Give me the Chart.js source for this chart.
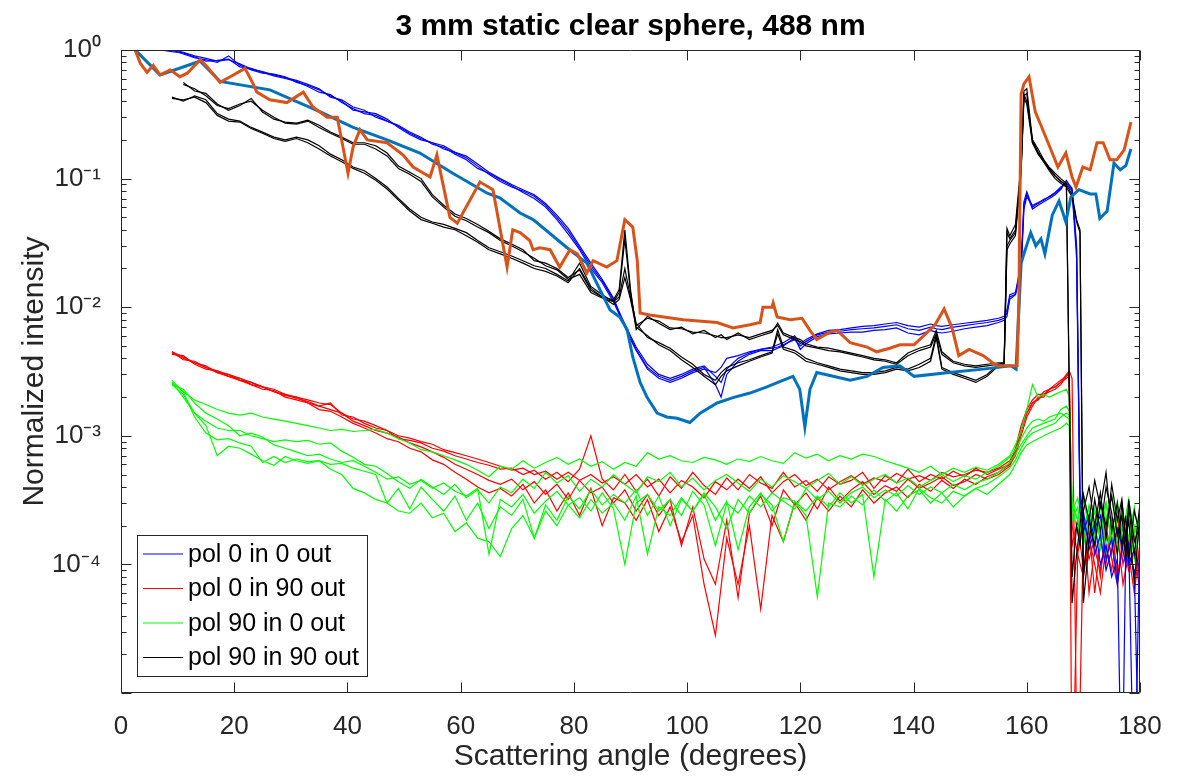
<!DOCTYPE html>
<html>
<head>
<meta charset="utf-8">
<title>3 mm static clear sphere, 488 nm</title>
<script src="https://cdn.jsdelivr.net/npm/chart.js@4.4.1/dist/chart.umd.min.js"></script>
<style>
  html, body { margin: 0; padding: 0; background: #ffffff; }
</style>
</head>
<body>
<canvas id="scatter-chart" width="1184" height="781"></canvas>
<script>
// scattering angles (degrees) shared by the blue and black traces
const anglesA = [3, 5, 7, 9, 11, 13, 15, 17, 19, 21,
  23, 25, 27, 29, 31, 33, 35, 37, 39, 41,
  43, 45, 47, 49, 51, 53, 55, 57, 59, 61,
  63, 65, 67, 69, 71, 73, 75, 77, 79, 81,
  83, 85, 87, 88, 89, 90, 91, 93, 95, 97,
  99, 101, 103, 105, 106, 107, 109, 111, 113, 115,
  116, 117, 119, 120, 121, 123, 125, 127, 129, 131,
  133, 135, 137, 139, 141, 143, 144, 145, 147, 149,
  151, 153, 155, 156, 156.5, 157, 158, 159, 159.5, 160,
  161, 162, 163, 164, 165, 166, 167, 168, 168.8, 169.4,
  170, 171, 172, 173, 174, 175, 176, 176.8, 177.5, 178,
  179, 180];

// scattering angles shared by the red and green traces
const anglesB = [9, 11, 13, 15, 17, 19, 21, 23, 25, 27,
  29, 31, 33, 35, 37, 39, 41, 43, 45, 47,
  49, 51, 53, 55, 57, 59, 61, 63, 65, 67,
  69, 71, 73, 75, 77, 79, 81, 83, 85, 87,
  89, 91, 93, 95, 97, 99, 101, 103, 105, 107,
  109, 111, 113, 115, 117, 119, 121, 123, 125, 127,
  129, 131, 133, 135, 137, 139, 141, 143, 145, 147,
  149, 151, 153, 155, 157, 158, 159, 160, 161, 162,
  163, 164, 165, 166, 167, 167.5, 168, 169, 170, 171,
  172, 173, 174, 175, 176, 177, 178, 179, 180];

// pol 0 in 0 out
const blue1 = [1.15, 1.06, 1.02, 1.0, 0.93, 0.87, 0.84, 0.80, 0.90, 0.76,
  0.70, 0.66, 0.65, 0.62, 0.56, 0.53, 0.49, 0.44, 0.40, 0.34,
  0.33, 0.32, 0.29, 0.25, 0.22, 0.20, 0.19, 0.18, 0.16, 0.145,
  0.125, 0.108, 0.095, 0.086, 0.080, 0.073, 0.062, 0.050, 0.039, 0.029,
  0.021, 0.016, 0.0115, 0.0090, 0.0072, 0.0058, 0.0047, 0.0034, 0.0029, 0.0027,
  0.0029, 0.0032, 0.0034, 0.0025, 0.0020, 0.0030, 0.0038, 0.0043, 0.0046, 0.0046,
  0.0048, 0.0050, 0.0058, 0.0047, 0.0052, 0.0059, 0.0062, 0.0063, 0.0064, 0.0064,
  0.0066, 0.0067, 0.0069, 0.0063, 0.0061, 0.0066, 0.0064, 0.0063, 0.0065, 0.0068,
  0.0070, 0.0072, 0.0076, 0.0079, 0.0085, 0.012, 0.0126, 0.021, 0.063, 0.076,
  0.058, 0.062, 0.066, 0.070, 0.075, 0.082, 0.097, 0.082, 0.028, 3.2e-4,
  2.2e-4, 1.5e-4, 2.1e-4, 1.0e-4, 1.4e-4, 8e-5, 1.1e-4, 1e-6, 1.6e-4, 1.2e-4,
  9e-5, 1e-6];
const blue2 = [1.12, 1.08, 1.0, 0.97, 0.95, 0.88, 0.82, 0.83, 0.85, 0.74,
  0.72, 0.67, 0.63, 0.60, 0.57, 0.52, 0.47, 0.45, 0.39, 0.35,
  0.32, 0.31, 0.28, 0.26, 0.23, 0.21, 0.185, 0.175, 0.155, 0.14,
  0.12, 0.11, 0.098, 0.088, 0.078, 0.070, 0.060, 0.048, 0.037, 0.028,
  0.020, 0.0155, 0.011, 0.0088, 0.0070, 0.0056, 0.0046, 0.0033, 0.0028, 0.0026,
  0.0028, 0.0031, 0.0033, 0.0031, 0.0034, 0.0040, 0.0042, 0.0045, 0.0047, 0.0048,
  0.0049, 0.0051, 0.0056, 0.0050, 0.0054, 0.0061, 0.0064, 0.0065, 0.0067, 0.0068,
  0.0069, 0.0071, 0.0073, 0.0068, 0.0066, 0.0070, 0.0068, 0.0067, 0.0070, 0.0072,
  0.0074, 0.0076, 0.0079, 0.0082, 0.0090, 0.0115, 0.0125, 0.019, 0.058, 0.072,
  0.062, 0.065, 0.068, 0.073, 0.078, 0.086, 0.092, 0.080, 0.024, 2.6e-4,
  1.8e-4, 2.4e-4, 1.2e-4, 1.7e-4, 9e-5, 1.3e-4, 1.9e-4, 1.4e-4, 1.0e-4, 1.5e-4,
  1e-6, 2.0e-4];
const blue3 = [1.18, 1.1, 1.04, 1.01, 0.96, 0.90, 0.86, 0.82, 0.84, 0.78,
  0.71, 0.68, 0.64, 0.61, 0.58, 0.54, 0.50, 0.43, 0.41, 0.36,
  0.34, 0.30, 0.28, 0.255, 0.225, 0.205, 0.19, 0.17, 0.16, 0.15,
  0.13, 0.112, 0.100, 0.090, 0.082, 0.075, 0.064, 0.052, 0.041, 0.030,
  0.022, 0.0165, 0.0118, 0.0092, 0.0074, 0.0060, 0.0049, 0.0036, 0.0030, 0.0028,
  0.0030, 0.0033, 0.0035, 0.0029, 0.0026, 0.0033, 0.0040, 0.0044, 0.0047, 0.0049,
  0.0051, 0.0053, 0.0060, 0.0052, 0.0056, 0.0062, 0.0066, 0.0067, 0.0069, 0.0071,
  0.0072, 0.0074, 0.0076, 0.0072, 0.0070, 0.0074, 0.0072, 0.0071, 0.0073, 0.0075,
  0.0077, 0.0079, 0.0082, 0.0085, 0.0095, 0.0125, 0.013, 0.022, 0.066, 0.079,
  0.060, 0.064, 0.069, 0.072, 0.077, 0.084, 0.095, 0.084, 0.030, 3.6e-4,
  2.6e-4, 1.3e-4, 1.9e-4, 2.4e-4, 1.1e-4, 1.6e-4, 7e-5, 1.3e-4, 1.8e-4, 1.0e-4,
  1.3e-4, 9e-5];

// pol 90 in 90 out
const blackA1 = [null, null, null, 0.43, 0.40, 0.44, 0.41, 0.32, 0.29, 0.28,
  0.25, 0.23, 0.21, 0.20, 0.21, 0.20, 0.18, 0.155, 0.14, 0.123,
  0.115, 0.10, 0.086, 0.070, 0.058, 0.050, 0.046, 0.044, 0.041, 0.038,
  0.033, 0.029, 0.027, 0.025, 0.023, 0.021, 0.020, 0.018, 0.016, 0.022,
  0.0145, 0.0125, 0.011, 0.012, 0.020, 0.012, 0.0075, 0.0058, 0.0053, 0.0048,
  0.0041, 0.0036, 0.0030, 0.0027, 0.0031, 0.0034, 0.0037, 0.0039, 0.0042, 0.0045,
  0.0067, 0.0049, 0.0046, 0.0043, 0.0040, 0.0037, 0.0035, 0.0033, 0.0032, 0.0031,
  0.0031, 0.0032, 0.0034, 0.0033, 0.0036, 0.0040, 0.0061, 0.0034, 0.0031, 0.0029,
  0.0027, 0.0030, 0.0036, 0.0037, 0.030, 0.033, 0.038, 0.12, 0.45, 0.40,
  0.20, 0.17, 0.14, 0.12, 0.105, 0.095, 0.090, 0.075, 0.048, 0.040,
  5e-5, 1.5e-4, 3.2e-4, 1.8e-4, 4.0e-4, 2.5e-4, 1.2e-4, 3.0e-4, 1.6e-4, 2.2e-4,
  7e-5, 2.5e-4];
const blackA2 = [null, null, null, 0.42, 0.41, 0.43, 0.39, 0.31, 0.28, 0.275,
  0.245, 0.225, 0.205, 0.195, 0.205, 0.19, 0.17, 0.15, 0.135, 0.12,
  0.11, 0.097, 0.083, 0.068, 0.056, 0.048, 0.045, 0.042, 0.040, 0.036,
  0.032, 0.028, 0.026, 0.024, 0.022, 0.020, 0.019, 0.0175, 0.0155, 0.020,
  0.014, 0.012, 0.0105, 0.0115, 0.017, 0.0115, 0.0070, 0.0060, 0.0051, 0.0046,
  0.0039, 0.0034, 0.0029, 0.0025, 0.0029, 0.0032, 0.0035, 0.0038, 0.0041, 0.0044,
  0.0062, 0.0047, 0.0044, 0.0041, 0.0038, 0.0036, 0.0034, 0.0032, 0.0031, 0.0030,
  0.0030, 0.0031, 0.0033, 0.0032, 0.0034, 0.0038, 0.0058, 0.0033, 0.0030, 0.0028,
  0.0026, 0.0029, 0.0035, 0.0036, 0.028, 0.031, 0.036, 0.11, 0.42, 0.38,
  0.19, 0.16, 0.135, 0.115, 0.10, 0.092, 0.086, 0.072, 0.046, 0.038,
  8e-5, 2.2e-4, 1.4e-4, 3.0e-4, 2.0e-4, 3.4e-4, 1.7e-4, 2.4e-4, 1.1e-4, 3.2e-4,
  1.5e-4, 2.0e-4];
const blackB1 = [null, null, null, null, 0.56, 0.48, 0.46, 0.38, 0.34, 0.37,
  0.42, 0.33, 0.29, 0.275, 0.27, 0.285, 0.26, 0.23, 0.21, 0.19,
  0.19, 0.18, 0.158, 0.125, 0.112, 0.100, 0.075, 0.062, 0.053, 0.049,
  0.044, 0.039, 0.034, 0.031, 0.028, 0.023, 0.022, 0.020, 0.017, 0.0195,
  0.0135, 0.012, 0.0114, 0.0137, 0.040, 0.0137, 0.0067, 0.0085, 0.0075, 0.0067,
  0.0070, 0.0062, 0.0066, 0.0058, 0.0061, 0.0056, 0.0063, 0.0056, 0.0060, 0.0064,
  0.0075, 0.0063, 0.0058, 0.0056, 0.0052, 0.0049, 0.0048, 0.0046, 0.0044, 0.0042,
  0.0040, 0.0039, 0.0037, 0.0044, 0.0048, 0.0051, 0.0066, 0.0045, 0.0038, 0.0036,
  0.0035, 0.0036, 0.0037, 0.0037, 0.041, 0.036, 0.044, 0.133, 0.48, 0.50,
  0.20, 0.16, 0.14, 0.122, 0.110, 0.100, 0.092, 5e-5, 1.2e-4, 2.0e-4,
  3.5e-4, 2.2e-4, 4.5e-4, 2.8e-4, 5.2e-4, 1.8e-4, 3.0e-4, 1.4e-4, 2.4e-4, 1.1e-4,
  2.6e-4, 1.7e-4];
const blackB2 = [null, null, null, null, 0.54, 0.50, 0.44, 0.37, 0.35, 0.38,
  0.40, 0.34, 0.30, 0.27, 0.265, 0.28, 0.25, 0.225, 0.205, 0.185,
  0.185, 0.17, 0.15, 0.12, 0.108, 0.095, 0.072, 0.060, 0.051, 0.047,
  0.042, 0.038, 0.033, 0.030, 0.027, 0.024, 0.021, 0.0195, 0.0165, 0.018,
  0.013, 0.0118, 0.011, 0.013, 0.034, 0.013, 0.0072, 0.0082, 0.0078, 0.0069,
  0.0068, 0.0064, 0.0063, 0.0060, 0.0058, 0.0058, 0.0061, 0.0058, 0.0062, 0.0066,
  0.0072, 0.0061, 0.0056, 0.0054, 0.0050, 0.0048, 0.0046, 0.0045, 0.0043, 0.0041,
  0.0039, 0.0038, 0.0036, 0.0042, 0.0046, 0.0049, 0.0062, 0.0043, 0.0037, 0.0035,
  0.0034, 0.0035, 0.0036, 0.0036, 0.038, 0.034, 0.040, 0.12, 0.44, 0.46,
  0.19, 0.155, 0.135, 0.118, 0.105, 0.096, 0.088, 8e-5, 2.0e-4, 1.4e-4,
  2.6e-4, 4.0e-4, 2.0e-4, 3.6e-4, 1.6e-4, 4.2e-4, 2.2e-4, 3.2e-4, 1.5e-4, 2.8e-4,
  1.2e-4, 3.0e-4];

// pol 0 in 90 out
const red1 = [4.5e-3, 4.1e-3, 3.7e-3, 3.4e-3, 3.1e-3, 3.0e-3, 2.8e-3, 2.6e-3, 2.4e-3, 2.3e-3,
  2.1e-3, 2.0e-3, 1.9e-3, 1.8e-3, 1.75e-3, 1.5e-3, 1.35e-3, 1.3e-3, 1.2e-3, 1.1e-3,
  1.0e-3, 9.6e-4, 9.0e-4, 8.6e-4, 7.8e-4, 7.4e-4, 7.0e-4, 6.6e-4, 6.2e-4, 5.8e-4,
  5.4e-4, 5.6e-4, 5.0e-4, 5.3e-4, 4.6e-4, 5.2e-4, 4.5e-4, 5.0e-4, 4.3e-4, 4.8e-4,
  4.2e-4, 5.0e-4, 4.0e-4, 4.6e-4, 3.6e-4, 4.5e-4, 4.0e-4, 3.3e-4, 4.4e-4, 3.8e-4,
  4.6e-4, 3.9e-4, 4.8e-4, 3.6e-4, 4.4e-4, 5.0e-4, 4.1e-4, 4.6e-4, 3.8e-4, 4.4e-4,
  4.9e-4, 4.2e-4, 4.7e-4, 4.4e-4, 5.1e-4, 4.6e-4, 4.9e-4, 4.5e-4, 5.2e-4, 4.8e-4,
  5.0e-4, 5.4e-4, 5.2e-4, 5.6e-4, 6.4e-4, 7.6e-4, 1.1e-3, 1.5e-3, 1.8e-3, 1.9e-3,
  2.1e-3, 2.2e-3, 2.3e-3, 2.5e-3, 2.9e-3, 3.1e-3, 1e-6, 1.2e-4, 8e-5, 1.6e-4,
  1.0e-4, 6e-5, 1.4e-4, 9e-5, 1.8e-4, 7e-5, 1.2e-4, 6e-5, 1.5e-4];
const red2 = [4.3e-3, 4.2e-3, 3.6e-3, 3.3e-3, 3.2e-3, 2.9e-3, 2.7e-3, 2.5e-3, 2.4e-3, 2.2e-3,
  2.1e-3, 1.95e-3, 1.85e-3, 1.7e-3, 1.8e-3, 1.45e-3, 1.4e-3, 1.25e-3, 1.15e-3, 1.1e-3,
  9.5e-4, 9.2e-4, 8.8e-4, 8.0e-4, 7.6e-4, 7.0e-4, 6.6e-4, 6.2e-4, 5.9e-4, 5.5e-4,
  5.6e-4, 5.0e-4, 5.4e-4, 4.6e-4, 5.2e-4, 4.4e-4, 5.5e-4, 1.0e-3, 4.6e-4, 3.8e-4,
  5.0e-4, 3.7e-4, 4.6e-4, 3.4e-4, 4.8e-4, 3.9e-4, 5.2e-4, 4.1e-4, 3.5e-4, 4.7e-4,
  3.8e-4, 5.0e-4, 4.3e-4, 3.9e-4, 5.2e-4, 4.0e-4, 4.5e-4, 3.7e-4, 4.8e-4, 4.2e-4,
  4.5e-4, 5.2e-4, 3.9e-4, 4.9e-4, 4.3e-4, 5.5e-4, 4.4e-4, 5.0e-4, 4.6e-4, 5.3e-4,
  4.8e-4, 5.6e-4, 5.0e-4, 5.5e-4, 6.0e-4, 7.0e-4, 1.0e-3, 1.4e-3, 1.7e-3, 2.0e-3,
  2.0e-3, 2.3e-3, 2.4e-3, 2.6e-3, 3.0e-3, 3.2e-3, 2.8e-3, 1e-6, 1.8e-4, 1.1e-4,
  1.6e-4, 8e-5, 2.0e-4, 1.1e-4, 7e-5, 1.5e-4, 9e-5, 1.3e-4, 6e-5];
const red3 = [4.4e-3, 4.0e-3, 3.7e-3, 3.5e-3, 3.1e-3, 2.9e-3, 2.8e-3, 2.5e-3, 2.3e-3, 2.25e-3,
  2.0e-3, 1.9e-3, 1.8e-3, 1.6e-3, 1.55e-3, 1.4e-3, 1.25e-3, 1.15e-3, 1.05e-3, 9.5e-4,
  9.0e-4, 8.0e-4, 7.5e-4, 6.5e-4, 6.0e-4, 5.2e-4, 4.6e-4, 4.0e-4, 3.6e-4, 3.9e-4,
  3.4e-4, 4.2e-4, 3.0e-4, 3.8e-4, 2.6e-4, 3.6e-4, 2.4e-4, 3.9e-4, 2.0e-4, 3.3e-4,
  3.0e-4, 2.2e-4, 3.2e-4, 1.8e-4, 2.8e-4, 1.5e-4, 2.4e-4, 7e-5, 2.8e-5, 1.6e-4,
  7e-5, 2.0e-4, 4.5e-5, 2.4e-4, 1.5e-4, 3.0e-4, 2.2e-4, 3.3e-4, 2.6e-4, 3.4e-4,
  2.8e-4, 3.8e-4, 3.0e-4, 3.6e-4, 4.0e-4, 3.3e-4, 4.2e-4, 3.7e-4, 4.5e-4, 3.9e-4,
  4.6e-4, 4.2e-4, 4.8e-4, 5.2e-4, 6.0e-4, 8.0e-4, 1.2e-3, 1.6e-3, 1.9e-3, 2.1e-3,
  2.1e-3, 2.3e-3, 2.4e-3, 2.6e-3, 2.8e-3, 2.9e-3, 1.4e-4, 2.2e-4, 9e-5, 1.9e-4,
  6e-5, 1.5e-4, 1.0e-4, 2.2e-4, 8e-5, 1.6e-4, 1.1e-4, 1.8e-4, 7e-5];
const red4 = [4.5e-3, 3.9e-3, 3.8e-3, 3.4e-3, 3.2e-3, 3.0e-3, 2.7e-3, 2.6e-3, 2.4e-3, 2.2e-3,
  2.05e-3, 2.0e-3, 1.8e-3, 1.7e-3, 1.6e-3, 1.5e-3, 1.3e-3, 1.2e-3, 1.1e-3, 1.05e-3,
  9.8e-4, 8.8e-4, 8.2e-4, 7.5e-4, 6.8e-4, 6.0e-4, 5.5e-4, 5.0e-4, 4.5e-4, 4.2e-4,
  4.6e-4, 3.8e-4, 4.4e-4, 3.5e-4, 4.2e-4, 3.2e-4, 4.5e-4, 3.6e-4, 4.0e-4, 3.0e-4,
  3.8e-4, 2.6e-4, 3.5e-4, 2.4e-4, 3.2e-4, 1.4e-4, 2.8e-4, 1.1e-4, 7e-5, 2.2e-4,
  5.5e-5, 2.5e-4, 3.4e-4, 2.0e-4, 3.8e-4, 2.9e-4, 3.6e-4, 2.7e-4, 4.0e-4, 3.1e-4,
  3.8e-4, 4.4e-4, 3.5e-4, 4.1e-4, 3.7e-4, 4.6e-4, 3.9e-4, 4.3e-4, 4.8e-4, 4.1e-4,
  4.4e-4, 5.0e-4, 4.6e-4, 5.0e-4, 5.8e-4, 7.4e-4, 1.1e-3, 1.5e-3, 1.8e-3, 1.95e-3,
  2.2e-3, 2.3e-3, 2.5e-3, 2.7e-3, 2.9e-3, 3.0e-3, 2.0e-4, 1.2e-4, 2.4e-4, 6e-5,
  1.3e-4, 9e-5, 1.7e-4, 1.2e-4, 2.5e-4, 1.0e-4, 1.6e-4, 8e-5, 1.3e-4];

// pol 90 in 0 out
const green1 = [2.6e-3, 2.2e-3, 1.9e-3, 1.75e-3, 1.6e-3, 1.5e-3, 1.45e-3, 1.5e-3, 1.4e-3, 1.35e-3,
  1.3e-3, 1.25e-3, 1.2e-3, 1.15e-3, 1.1e-3, 1.12e-3, 1.08e-3, 1.1e-3, 1.12e-3, 1.05e-3,
  9.5e-4, 8.8e-4, 7.8e-4, 7.5e-4, 7.0e-4, 6.5e-4, 6.0e-4, 5.4e-4, 4.8e-4, 5.8e-4,
  5.5e-4, 6.4e-4, 5.6e-4, 6.2e-4, 6.8e-4, 6.0e-4, 6.6e-4, 5.8e-4, 6.3e-4, 5.5e-4,
  6.2e-4, 5.8e-4, 7.4e-4, 6.6e-4, 7.0e-4, 6.4e-4, 6.2e-4, 6.8e-4, 6.5e-4, 6.0e-4,
  6.6e-4, 6.3e-4, 6.9e-4, 6.4e-4, 6.1e-4, 7.4e-4, 6.7e-4, 7.2e-4, 6.4e-4, 7.0e-4,
  6.6e-4, 7.2e-4, 6.9e-4, 6.4e-4, 6.0e-4, 5.6e-4, 5.2e-4, 5.8e-4, 5.0e-4, 5.6e-4,
  5.2e-4, 5.7e-4, 5.4e-4, 6.0e-4, 7.0e-4, 8.5e-4, 1.1e-3, 1.6e-3, 2.5e-3, 2.0e-3,
  2.1e-3, 2.0e-3, 2.1e-3, 2.2e-3, 2.3e-3, 2.0e-3, 3.0e-4, 2.2e-4, 3.5e-4, 1.8e-4,
  2.6e-4, 1.5e-4, 3.0e-4, 2.0e-4, 1.2e-4, 2.4e-4, 1.6e-4, 2.8e-4, 1.4e-4];
const green2 = [2.5e-3, 2.1e-3, 1.5e-3, 1.3e-3, 1.15e-3, 1.1e-3, 1.1e-3, 1.0e-3, 9.5e-4, 9.0e-4,
  9.3e-4, 9.0e-4, 9.2e-4, 8.6e-4, 8.8e-4, 7.6e-4, 6.8e-4, 6.0e-4, 5.8e-4, 5.1e-4,
  4.4e-4, 3.9e-4, 4.6e-4, 4.0e-4, 3.5e-4, 4.2e-4, 3.3e-4, 3.8e-4, 3.0e-4, 4.0e-4,
  3.6e-4, 4.6e-4, 3.9e-4, 5.2e-4, 4.3e-4, 4.9e-4, 3.7e-4, 4.6e-4, 4.0e-4, 5.0e-4,
  4.2e-4, 3.6e-4, 4.8e-4, 4.4e-4, 5.2e-4, 4.0e-4, 4.7e-4, 3.8e-4, 4.5e-4, 5.0e-4,
  4.3e-4, 3.7e-4, 4.6e-4, 4.0e-4, 4.9e-4, 4.4e-4, 3.9e-4, 4.5e-4, 5.1e-4, 4.2e-4,
  4.8e-4, 4.1e-4, 4.6e-4, 5.0e-4, 4.3e-4, 4.7e-4, 4.0e-4, 4.5e-4, 5.0e-4, 4.4e-4,
  4.9e-4, 4.6e-4, 5.2e-4, 5.8e-4, 6.8e-4, 7.8e-4, 9.5e-4, 1.15e-3, 1.3e-3, 1.35e-3,
  1.3e-3, 1.4e-3, 1.45e-3, 1.5e-3, 1.4e-3, 1.35e-3, 2.6e-4, 3.3e-4, 1.9e-4, 2.8e-4,
  1.5e-4, 2.2e-4, 3.0e-4, 1.4e-4, 2.5e-4, 1.8e-4, 3.2e-4, 1.7e-4, 2.4e-4];
const green3 = [2.6e-3, 2.0e-3, 1.5e-3, 1.2e-3, 7.0e-4, 8.3e-4, 8.0e-4, 7.2e-4, 6.4e-4, 5.9e-4,
  6.9e-4, 6.4e-4, 6.1e-4, 6.4e-4, 6.0e-4, 6.1e-4, 5.6e-4, 5.3e-4, 5.0e-4, 3.0e-4,
  3.9e-4, 2.7e-4, 4.0e-4, 3.2e-4, 2.6e-4, 3.4e-4, 2.2e-4, 3.0e-4, 1.9e-4, 2.8e-4,
  2.4e-4, 3.2e-4, 1.6e-4, 2.9e-4, 2.2e-4, 3.4e-4, 2.7e-4, 3.8e-4, 2.9e-4, 3.5e-4,
  3.0e-4, 3.8e-4, 2.4e-4, 3.4e-4, 2.0e-4, 3.2e-4, 2.6e-4, 3.5e-4, 2.2e-4, 3.1e-4,
  1.3e-4, 2.8e-4, 3.6e-4, 2.6e-4, 3.3e-4, 3.1e-4, 2.4e-4, 5.6e-5, 3.0e-4, 2.8e-4,
  3.4e-4, 2.9e-4, 3.8e-4, 3.1e-4, 3.6e-4, 2.7e-4, 3.9e-4, 3.3e-4, 3.0e-4, 3.7e-4,
  3.4e-4, 3.9e-4, 4.2e-4, 4.8e-4, 5.6e-4, 6.5e-4, 8.0e-4, 9.5e-4, 1.05e-3, 1.1e-3,
  1.15e-3, 1.2e-3, 1.25e-3, 1.4e-3, 1.5e-3, 1.45e-3, 3.2e-4, 2.2e-4, 1.6e-4, 2.9e-4,
  1.9e-4, 1.3e-4, 2.4e-4, 1.7e-4, 3.1e-4, 1.5e-4, 2.2e-4, 1.1e-4, 2.0e-4];
const green4 = [2.7e-3, 2.2e-3, 1.4e-3, 1.05e-3, 9.3e-4, 9.5e-4, 8.8e-4, 8.3e-4, 6.2e-4, 6.9e-4,
  6.2e-4, 6.6e-4, 6.3e-4, 6.4e-4, 5.5e-4, 5.0e-4, 3.9e-4, 3.6e-4, 3.2e-4, 3.0e-4,
  2.6e-4, 2.5e-4, 3.0e-4, 2.3e-4, 2.5e-4, 1.8e-4, 2.1e-4, 1.6e-4, 1.5e-4, 1.15e-4,
  1.9e-4, 2.4e-4, 1.6e-4, 2.6e-4, 2.0e-4, 2.9e-4, 2.3e-4, 3.2e-4, 2.5e-4, 3.0e-4,
  2.2e-4, 3.4e-4, 1.2e-4, 2.8e-4, 2.4e-4, 3.3e-4, 2.6e-4, 3.6e-4, 2.8e-4, 1.9e-4,
  3.2e-4, 2.5e-4, 3.5e-4, 2.9e-4, 1.5e-4, 3.1e-4, 2.6e-4, 3.4e-4, 2.8e-4, 3.6e-4,
  3.0e-4, 3.5e-4, 8e-5, 3.2e-4, 2.6e-4, 3.4e-4, 3.8e-4, 3.0e-4, 3.6e-4, 2.8e-4,
  3.4e-4, 3.9e-4, 3.5e-4, 4.2e-4, 5.0e-4, 6.0e-4, 7.4e-4, 8.5e-4, 9.0e-4, 9.5e-4,
  1.0e-3, 1.05e-3, 1.1e-3, 1.15e-3, 1.25e-3, 1.2e-3, 2.2e-4, 2.8e-4, 1.4e-4, 2.4e-4,
  1.7e-4, 2.9e-4, 1.2e-4, 2.1e-4, 1.5e-4, 2.6e-4, 1.1e-4, 1.9e-4, 2.3e-4];
const green5 = [2.5e-3, 2.3e-3, 1.8e-3, 1.5e-3, 1.35e-3, 1.2e-3, 1.0e-3, 1.05e-3, 9.8e-4, 8.5e-4,
  8.0e-4, 7.5e-4, 7.0e-4, 7.2e-4, 6.6e-4, 6.2e-4, 6.4e-4, 5.8e-4, 5.2e-4, 4.6e-4,
  4.8e-4, 4.2e-4, 4.5e-4, 3.9e-4, 4.3e-4, 3.7e-4, 3.4e-4, 3.9e-4, 1.2e-4, 3.2e-4,
  2.8e-4, 3.5e-4, 2.5e-4, 3.1e-4, 3.7e-4, 2.9e-4, 3.3e-4, 2.6e-4, 3.6e-4, 2.7e-4,
  1.0e-4, 3.0e-4, 3.5e-4, 2.6e-4, 3.2e-4, 2.4e-4, 3.7e-4, 2.9e-4, 1.4e-4, 3.0e-4,
  2.5e-4, 3.4e-4, 2.8e-4, 3.6e-4, 3.1e-4, 2.7e-4, 3.9e-4, 3.2e-4, 3.7e-4, 3.0e-4,
  3.6e-4, 4.0e-4, 3.3e-4, 3.8e-4, 3.4e-4, 4.1e-4, 3.5e-4, 4.0e-4, 3.6e-4, 4.2e-4,
  3.8e-4, 4.3e-4, 4.6e-4, 5.2e-4, 6.2e-4, 7.2e-4, 8.6e-4, 1.0e-3, 1.15e-3, 1.2e-3,
  1.25e-3, 1.3e-3, 1.35e-3, 1.6e-3, 1.7e-3, 1.55e-3, 2.8e-4, 1.8e-4, 3.2e-4, 2.0e-4,
  2.7e-4, 1.6e-4, 2.2e-4, 3.4e-4, 1.9e-4, 1.3e-4, 2.7e-4, 2.0e-4, 1.5e-4];

// thick orange trace
const orangeAngles = [2.5, 3.4, 4.6, 5.7, 6.9, 8.7, 10.4, 11.7, 14.0, 15.2,
  17.5, 19.3, 21.9, 23.3, 24.0, 26.3, 29.3, 32.2, 33.9, 36.4,
  38.2, 40.1, 41.0, 42.2, 43.5, 47.0, 49.8, 51.6, 54.6, 55.8,
  58.1, 59.4, 63.4, 65.7, 68.2, 69.2, 70.5, 72.2, 72.8, 74.0,
  75.8, 77.5, 79.3, 80.6, 82.3, 83.4, 85.8, 87.6, 89.0, 90.4,
  91.2, 91.7, 93.4, 99.3, 105.3, 108.1, 111.1, 112.9, 113.4, 115.0,
  115.2, 115.9, 118.2, 120.3, 121.7, 122.9, 125.2, 126.5, 128.8, 131.8,
  133.5, 135.8, 137.6, 140.1, 143.8, 145.4, 146.8, 148.0, 149.8, 152.3,
  154.7, 158.3, 158.6, 159.0, 159.5, 160.4, 161.5, 162.5, 164.5, 165.5,
  166.9, 168.0, 168.7, 169.9, 171.2, 172.4, 173.5, 174.7, 175.9, 177.2,
  178.4];
const orangeValues = [1.0, 0.79, 0.67, 0.76, 0.64, 0.70, 0.62, 0.66, 0.84, 0.74,
  0.56, 0.62, 0.72, 0.55, 0.47, 0.41, 0.39, 0.47, 0.36, 0.30,
  0.30, 0.11, 0.176, 0.24, 0.20, 0.19, 0.153, 0.123, 0.103, 0.153,
  0.050, 0.045, 0.094, 0.082, 0.0205, 0.040, 0.038, 0.033, 0.028, 0.029,
  0.028, 0.0205, 0.028, 0.026, 0.0185, 0.023, 0.0205, 0.023, 0.048, 0.042,
  0.023, 0.0090, 0.0087, 0.0080, 0.0076, 0.0069, 0.0073, 0.0076, 0.0100, 0.0100,
  0.0108, 0.0084, 0.0080, 0.0082, 0.0066, 0.0056, 0.0064, 0.0066, 0.0053, 0.0049,
  0.0045, 0.0048, 0.0051, 0.0051, 0.0073, 0.0097, 0.0069, 0.0042, 0.0047, 0.0042,
  0.0035, 0.0035, 0.0114, 0.455, 0.545, 0.62, 0.33, 0.26, 0.158, 0.123,
  0.158, 0.103, 0.086, 0.123, 0.117, 0.19, 0.19, 0.14, 0.14, 0.167,
  0.275];

// thick steel-blue trace
const steelAngles = [2.5, 6.9, 14.0, 17.5, 26.3, 35.2, 41.0, 47.0, 52.8, 58.6,
  64.7, 66.9, 70.5, 72.8, 78.8, 82.3, 84.6, 86.4, 88.1, 89.4,
  90.4, 91.7, 92.9, 94.7, 96.4, 98.2, 100.5, 102.3, 105.3, 108.1,
  111.1, 114.1, 116.9, 118.7, 119.9, 120.8, 121.7, 122.9, 125.8, 128.8,
  131.8, 134.6, 137.6, 140.1, 146.3, 152.3, 157.2, 158.1, 159.0, 159.5,
  160.7, 161.6, 162.5, 163.2, 164.5, 165.7, 166.9, 167.8, 169.2, 171.2,
  172.2, 172.9, 174.2, 175.4, 176.5, 177.5, 178.4];
const steelValues = [1.0, 0.64, 0.82, 0.57, 0.49, 0.33, 0.25, 0.20, 0.158, 0.110,
  0.077, 0.071, 0.054, 0.048, 0.029, 0.022, 0.0137, 0.0095, 0.0084, 0.0067,
  0.0041, 0.0026, 0.0020, 0.00150, 0.00140, 0.00137, 0.00127, 0.00150, 0.00180, 0.00198,
  0.00215, 0.0024, 0.0027, 0.0029, 0.0023, 0.00117, 0.0023, 0.0031, 0.0029, 0.0027,
  0.0029, 0.0034, 0.0035, 0.0029, 0.0031, 0.0033, 0.0035, 0.0033, 0.022, 0.026,
  0.038, 0.030, 0.034, 0.026, 0.052, 0.067, 0.046, 0.072, 0.082, 0.076,
  0.076, 0.049, 0.056, 0.132, 0.117, 0.126, 0.170];

const xTickValues = [0, 20, 40, 60, 80, 100, 120, 140, 160, 180];
const yTickValues = [1e-4, 1e-3, 1e-2, 1e-1, 1];
const yTickLabels = ['10\u207B\u2074', '10\u207B\u00B3', '10\u207B\u00B2', '10\u207B\u00B9', '10\u2070'];
const legendLabels = ['pol 0 in 0 out', 'pol 0 in 90 out', 'pol 90 in 0 out', 'pol 90 in 90 out'];
const legendColors = ['#0000ff', '#ff0000', '#00ff00', '#000000'];
const chartTitle = '3 mm static clear sphere, 488 nm';

const FONT = '"Liberation Sans", Arial, Helvetica, sans-serif';
const AXIS = '#262626';

function pairs(xs, ys) {
  return xs.map((x, i) => ({ x: x, y: ys[i] }));
}

function trace(xs, ys, color, width) {
  return {
    data: pairs(xs, ys),
    borderColor: color,
    borderWidth: width,
    pointRadius: 0,
    fill: false,
    tension: 0
  };
}

// MATLAB style box, inward ticks, legend and title
const framePlugin = {
  id: 'matlabFrame',
  afterDraw(chart) {
    const ctx = chart.ctx;
    const a = chart.chartArea;
    const xs = chart.scales.x;
    const ys = chart.scales.y;
    ctx.save();
    ctx.strokeStyle = AXIS;
    ctx.lineWidth = 1;
    ctx.beginPath();
    const L = Math.round(a.left) + 0.5, R = Math.round(a.right) - 0.5;
    const T = Math.round(a.top) + 0.5, B = Math.round(a.bottom) - 0.5;
    ctx.rect(L, T, R - L, B - T);
    xTickValues.forEach(v => {
      const px = Math.round(xs.getPixelForValue(v)) + 0.5;
      ctx.moveTo(px, B); ctx.lineTo(px, B - 10);
      ctx.moveTo(px, T); ctx.lineTo(px, T + 10);
    });
    for (let e = -5; e <= 0; e++) {
      for (let k = 1; k <= 9; k++) {
        if (e === 0 && k > 1) break;
        const py = Math.round(ys.getPixelForValue(k * Math.pow(10, e))) + 0.5;
        const len = k === 1 ? 10 : 5;
        ctx.moveTo(L, py); ctx.lineTo(L + len, py);
        ctx.moveTo(R, py); ctx.lineTo(R - len, py);
      }
    }
    ctx.stroke();

    // legend
    const lx = 137.5, ly = 535.5, lw = 230, lh = 141;
    ctx.fillStyle = '#ffffff';
    ctx.fillRect(lx, ly, lw, lh);
    ctx.strokeStyle = AXIS;
    ctx.strokeRect(lx, ly, lw, lh);
    ctx.font = '25px ' + FONT;
    ctx.textBaseline = 'middle';
    ctx.textAlign = 'left';
    legendLabels.forEach((label, i) => {
      const rowY = 554 + i * 34.5;
      ctx.strokeStyle = legendColors[i];
      ctx.lineWidth = 1.2;
      ctx.beginPath();
      ctx.moveTo(143, rowY);
      ctx.lineTo(183, rowY);
      ctx.stroke();
      ctx.fillStyle = '#000000';
      ctx.fillText(label, 188, rowY + 1);
    });

    // title
    ctx.font = 'bold 30px ' + FONT;
    ctx.textAlign = 'center';
    ctx.textBaseline = 'alphabetic';
    ctx.fillStyle = '#000000';
    ctx.fillText(chartTitle, (a.left + a.right) / 2, 35);
    ctx.restore();
  }
};

Chart.defaults.font.family = FONT;

new Chart(document.getElementById('scatter-chart'), {
  type: 'line',
  data: {
    datasets: [
      trace(orangeAngles, orangeValues, '#D95319', 3),
      trace(steelAngles, steelValues, '#0072BD', 3),
      trace(anglesA, blackA1, '#000000', 1.2),
      trace(anglesA, blackA2, '#000000', 1.2),
      trace(anglesA, blackB1, '#000000', 1.2),
      trace(anglesA, blackB2, '#000000', 1.2),
      trace(anglesA, blue1, '#0000ff', 1.2),
      trace(anglesA, blue2, '#0000ff', 1.2),
      trace(anglesA, blue3, '#0000ff', 1.2),
      trace(anglesB, green1, '#00ff00', 1.2),
      trace(anglesB, green2, '#00ff00', 1.2),
      trace(anglesB, green3, '#00ff00', 1.2),
      trace(anglesB, green4, '#00ff00', 1.2),
      trace(anglesB, green5, '#00ff00', 1.2),
      trace(anglesB, red1, '#ff0000', 1.2),
      trace(anglesB, red2, '#ff0000', 1.2),
      trace(anglesB, red3, '#ff0000', 1.2),
      trace(anglesB, red4, '#ff0000', 1.2)
    ]
  },
  options: {
    responsive: false,
    animation: false,
    events: [],
    layout: { padding: { top: 50, right: 44, bottom: 0, left: 0 } },
    plugins: {
      legend: { display: false },
      title: { display: false },
      tooltip: { enabled: false }
    },
    scales: {
      x: {
        type: 'linear',
        min: 0,
        max: 180,
        afterBuildTicks: s => { s.ticks = xTickValues.map(v => ({ value: v })); },
        afterFit: s => { s.height = 88; },
        grid: { display: false },
        border: { display: false },
        ticks: { padding: 10, color: AXIS, font: { size: 26 }, maxRotation: 0, autoSkip: false },
        title: {
          display: true,
          text: 'Scattering angle (degrees)',
          color: AXIS,
          font: { size: 30 },
          padding: { top: 0, bottom: 6 }
        }
      },
      y: {
        type: 'logarithmic',
        min: 1e-5,
        max: 1,
        afterBuildTicks: s => { s.ticks = yTickValues.map(v => ({ value: v })); },
        afterFit: s => { s.width = 121; },
        grid: { display: false },
        border: { display: false },
        ticks: {
          padding: 12,
          color: AXIS,
          font: { size: 26 },
          autoSkip: false,
          callback: (v, i) => yTickLabels[i]
        },
        title: {
          display: true,
          text: 'Normalized intensity',
          color: AXIS,
          font: { size: 30 },
          padding: { top: 17, bottom: 0 }
        }
      }
    }
  },
  plugins: [framePlugin]
});
</script>
</body>
</html>
